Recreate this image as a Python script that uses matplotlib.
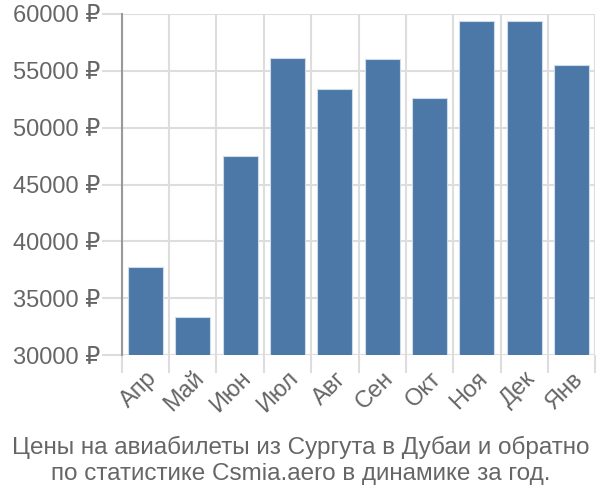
import numpy as np
import matplotlib
matplotlib.use("Agg")
import matplotlib.pyplot as plt

plt.rcParams['font.family'] = ['Liberation Sans', 'DejaVu Sans']

# месяцы и цены (руб.)
mesyatsy = ["Апр", "Май", "Июн", "Июл", "Авг", "Сен", "Окт", "Ноя", "Дек", "Янв"]
tseny = [37700, 33350, 47500, 56100, 53380, 56080, 52650, 59400, 59400, 55480]
y_ticks = [30000, 35000, 40000, 45000, 50000, 55000, 60000]

fig = plt.figure(figsize=(6, 5), dpi=100)
ax = fig.add_axes([0.203, 0.29, 0.789, 0.682])

x = np.arange(len(mesyatsy))
ax.bar(x, tseny, width=0.74, bottom=0, color="#4c78a8",
       edgecolor="#d0dbea", linewidth=0.8, zorder=3)

ax.set_ylim(30000, 60000)
ax.set_xlim(-0.5, len(mesyatsy) - 0.5)

ax.set_yticks(y_ticks)
ax.set_yticklabels([f"{v} ₽" for v in y_ticks])
ax.set_xticks(x)
ax.set_xticklabels(mesyatsy, rotation=45, ha="right", rotation_mode="anchor")
ax.set_xticks(np.arange(-0.5, len(mesyatsy)), minor=True)

ax.tick_params(axis="x", which="major", length=0, pad=9, labelsize=17, labelcolor="#666666")
ax.tick_params(axis="x", which="minor", length=13, color="#dddddd", width=1.5)
ax.tick_params(axis="y", length=14.5, color="#dddddd", width=1.5, pad=1,
               labelsize=17, labelcolor="#666666")

ax.grid(True, axis="y", color="#dddddd", linewidth=1.5, zorder=0)
ax.grid(True, axis="x", which="minor", color="#dddddd", linewidth=1.5, zorder=0)

for s in ["top", "right", "bottom"]:
    ax.spines[s].set_visible(False)
ax.spines["left"].set_color("#999999")
ax.spines["left"].set_linewidth(1.5)

fig.text(0.502, 0.079, "Цены на авиабилеты из Сургута в Дубаи и обратно\nпо статистике Csmia.aero в динамике за год.",
         ha="center", va="center", fontsize=17.5, color="#666666", linespacing=1.22)

fig.savefig("out.png", dpi=100)
